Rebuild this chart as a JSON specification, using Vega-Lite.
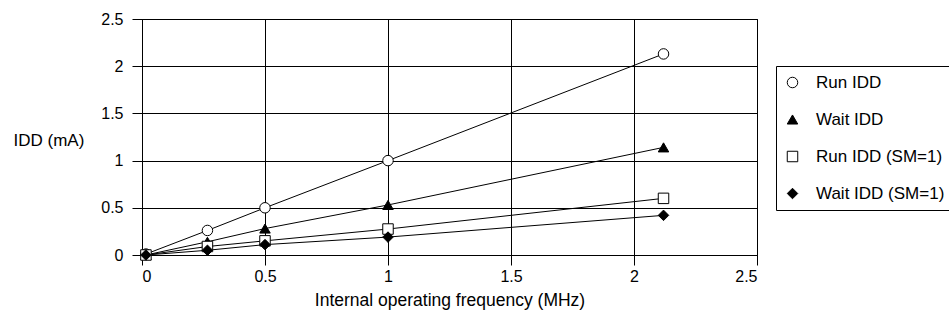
{
  "$schema": "https://vega.github.io/schema/vega-lite/v6.json",
  "autosize": {"type": "none"},
  "width": 615,
  "height": 236,
  "padding": {"left": 142, "top": 19, "right": 192, "bottom": 65},
  "background": "white",
  "data": {
    "values": [
      {"series": "Run IDD", "freq": 0.016, "idd": 0.01},
      {"series": "Run IDD", "freq": 0.266, "idd": 0.26},
      {"series": "Run IDD", "freq": 0.5, "idd": 0.5},
      {"series": "Run IDD", "freq": 1.0, "idd": 1.0},
      {"series": "Run IDD", "freq": 2.12, "idd": 2.13},
      {"series": "Wait IDD", "freq": 0.016, "idd": 0.0},
      {"series": "Wait IDD", "freq": 0.266, "idd": 0.14},
      {"series": "Wait IDD", "freq": 0.5, "idd": 0.28},
      {"series": "Wait IDD", "freq": 1.0, "idd": 0.53},
      {"series": "Wait IDD", "freq": 2.12, "idd": 1.14},
      {"series": "Run IDD (SM=1)", "freq": 0.016, "idd": 0.0},
      {"series": "Run IDD (SM=1)", "freq": 0.266, "idd": 0.09},
      {"series": "Run IDD (SM=1)", "freq": 0.5, "idd": 0.15},
      {"series": "Run IDD (SM=1)", "freq": 1.0, "idd": 0.275},
      {"series": "Run IDD (SM=1)", "freq": 2.12, "idd": 0.6},
      {"series": "Wait IDD (SM=1)", "freq": 0.016, "idd": 0.0},
      {"series": "Wait IDD (SM=1)", "freq": 0.266, "idd": 0.05},
      {"series": "Wait IDD (SM=1)", "freq": 0.5, "idd": 0.11},
      {"series": "Wait IDD (SM=1)", "freq": 1.0, "idd": 0.19},
      {"series": "Wait IDD (SM=1)", "freq": 2.12, "idd": 0.42}
    ]
  },
  "encoding": {
    "x": {
      "field": "freq", "type": "quantitative",
      "scale": {"domain": [0, 2.5], "nice": false, "zero": false},
      "axis": {"values": [0, 0.5, 1, 1.5, 2, 2.5], "format": ".1~f", "title": "Internal operating frequency (MHz)", "labelPadding": 3, "titlePadding": 7}
    },
    "y": {
      "field": "idd", "type": "quantitative",
      "scale": {"domain": [0, 2.5], "nice": false},
      "axis": {"values": [0, 0.5, 1, 1.5, 2, 2.5], "format": ".1~f", "title": "IDD (mA)", "labelPadding": 9,
        "titleAngle": 0, "titleX": -129, "titleY": 121, "titleAlign": "left", "titleBaseline": "middle", "titleFontSize": 17}
    }
  },
  "layer": [
    {
      "mark": {"type": "line", "color": "black", "strokeWidth": 1},
      "encoding": {"detail": {"field": "series", "type": "nominal"}}
    },
    {
      "mark": {"type": "point", "filled": true, "strokeWidth": 1, "opacity": 1},
      "encoding": {
        "shape": {
          "field": "series", "type": "nominal",
          "scale": {"domain": ["Run IDD", "Wait IDD", "Run IDD (SM=1)", "Wait IDD (SM=1)"], "range": ["circle", "triangle-up", "square", "diamond"]},
          "legend": {"title": null}
        },
        "fill": {
          "field": "series", "type": "nominal",
          "scale": {"domain": ["Run IDD", "Wait IDD", "Run IDD (SM=1)", "Wait IDD (SM=1)"], "range": ["white", "black", "white", "black"]},
          "legend": {"title": null}
        },
        "stroke": {
          "field": "series", "type": "nominal",
          "scale": {"domain": ["Run IDD", "Wait IDD", "Run IDD (SM=1)", "Wait IDD (SM=1)"], "range": ["black", "black", "black", "black"]},
          "legend": {"title": null}
        },
        "size": {
          "field": "series", "type": "nominal",
          "scale": {"domain": ["Run IDD", "Wait IDD", "Run IDD (SM=1)", "Wait IDD (SM=1)"], "range": [110, 110, 95, 80]},
          "legend": {"title": null}
        }
      }
    }
  ],
  "config": {
    "font": "Liberation Sans, Arial, sans-serif",
    "view": {"stroke": "black", "strokeWidth": 1},
    "axis": {
      "grid": true, "gridColor": "black", "gridOpacity": 1, "gridWidth": 1,
      "domainColor": "black", "domainWidth": 1,
      "tickColor": "black", "tickSize": 10, "tickWidth": 1,
      "labelColor": "black", "labelFontSize": 16, "labelFont": "Liberation Sans, Arial, sans-serif",
      "titleColor": "black", "titleFontSize": 17.5, "titleFontWeight": "normal", "titleFont": "Liberation Sans, Arial, sans-serif"
    },
    "legend": {
      "orient": "none", "legendX": 634, "legendY": 47,
      "strokeColor": "black", "strokeWidth": 1, "cornerRadius": 0, "fillColor": "white",
      "padding": 8, "rowPadding": 19, "labelOffset": 15,
      "labelFontSize": 17, "labelColor": "black", "labelFont": "Liberation Sans, Arial, sans-serif",
      "symbolStrokeWidth": 1, "labelLimit": 300
    }
  }
}
